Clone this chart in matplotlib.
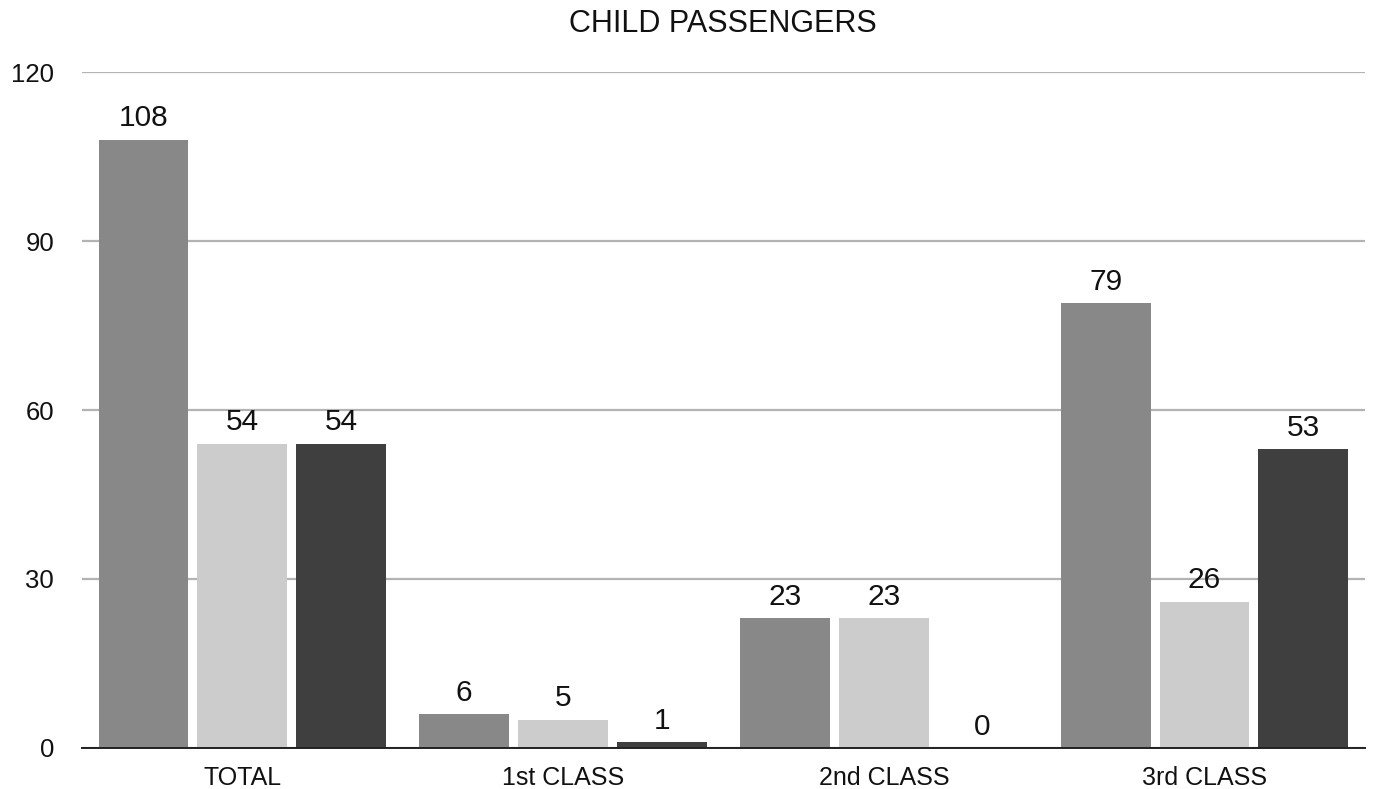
import matplotlib.pyplot as plt
import numpy as np

plt.rcParams['font.family'] = ['Liberation Sans', 'DejaVu Sans']

categories = ["TOTAL", "1st CLASS", "2nd CLASS", "3rd CLASS"]
series_a = [108, 6, 23, 79]
series_b = [54, 5, 23, 26]
series_c = [54, 1, 0, 53]
colors = ["#888888", "#cccccc", "#3f3f3f"]

fig = plt.figure(figsize=(13.75, 7.89), dpi=100)
ax = fig.add_axes([0.0596, 0.052, 0.9331, 0.8567])

x = np.arange(len(categories))
w = 0.28
step = 0.308
for i, (vals, col) in enumerate(zip([series_a, series_b, series_c], colors)):
    pos = x + (i - 1) * step
    ax.bar(pos, vals, width=w, color=col, zorder=3)
    for p, v in zip(pos, vals):
        ax.text(p, v + 1.3, str(v), ha="center", va="bottom", fontsize=21.5, color="#111111")

ax.set_xlim(-0.5, 3.5)
ax.set_ylim(0, 120)
ax.set_yticks([0, 30, 60, 90, 120])
ax.set_xticks(x)
ax.set_xticklabels(categories)
ax.tick_params(axis="both", length=0, colors="#111111")
ax.tick_params(axis="y", pad=20, labelsize=18.5)
ax.tick_params(axis="x", pad=13, labelsize=18)
ax.yaxis.grid(True, color="#b3b3b3", linewidth=1.6, zorder=0)
ax.set_axisbelow(True)
for s in ["top", "right", "left"]:
    ax.spines[s].set_visible(False)
ax.spines["bottom"].set_color("#222222")
ax.spines["bottom"].set_linewidth(1.4)
ax.spines["bottom"].set_zorder(4)

fig.text(0.526, 0.969, "CHILD PASSENGERS", ha="center", va="center", fontsize=22, color="#111111")

fig.savefig("out.png", dpi=100)
